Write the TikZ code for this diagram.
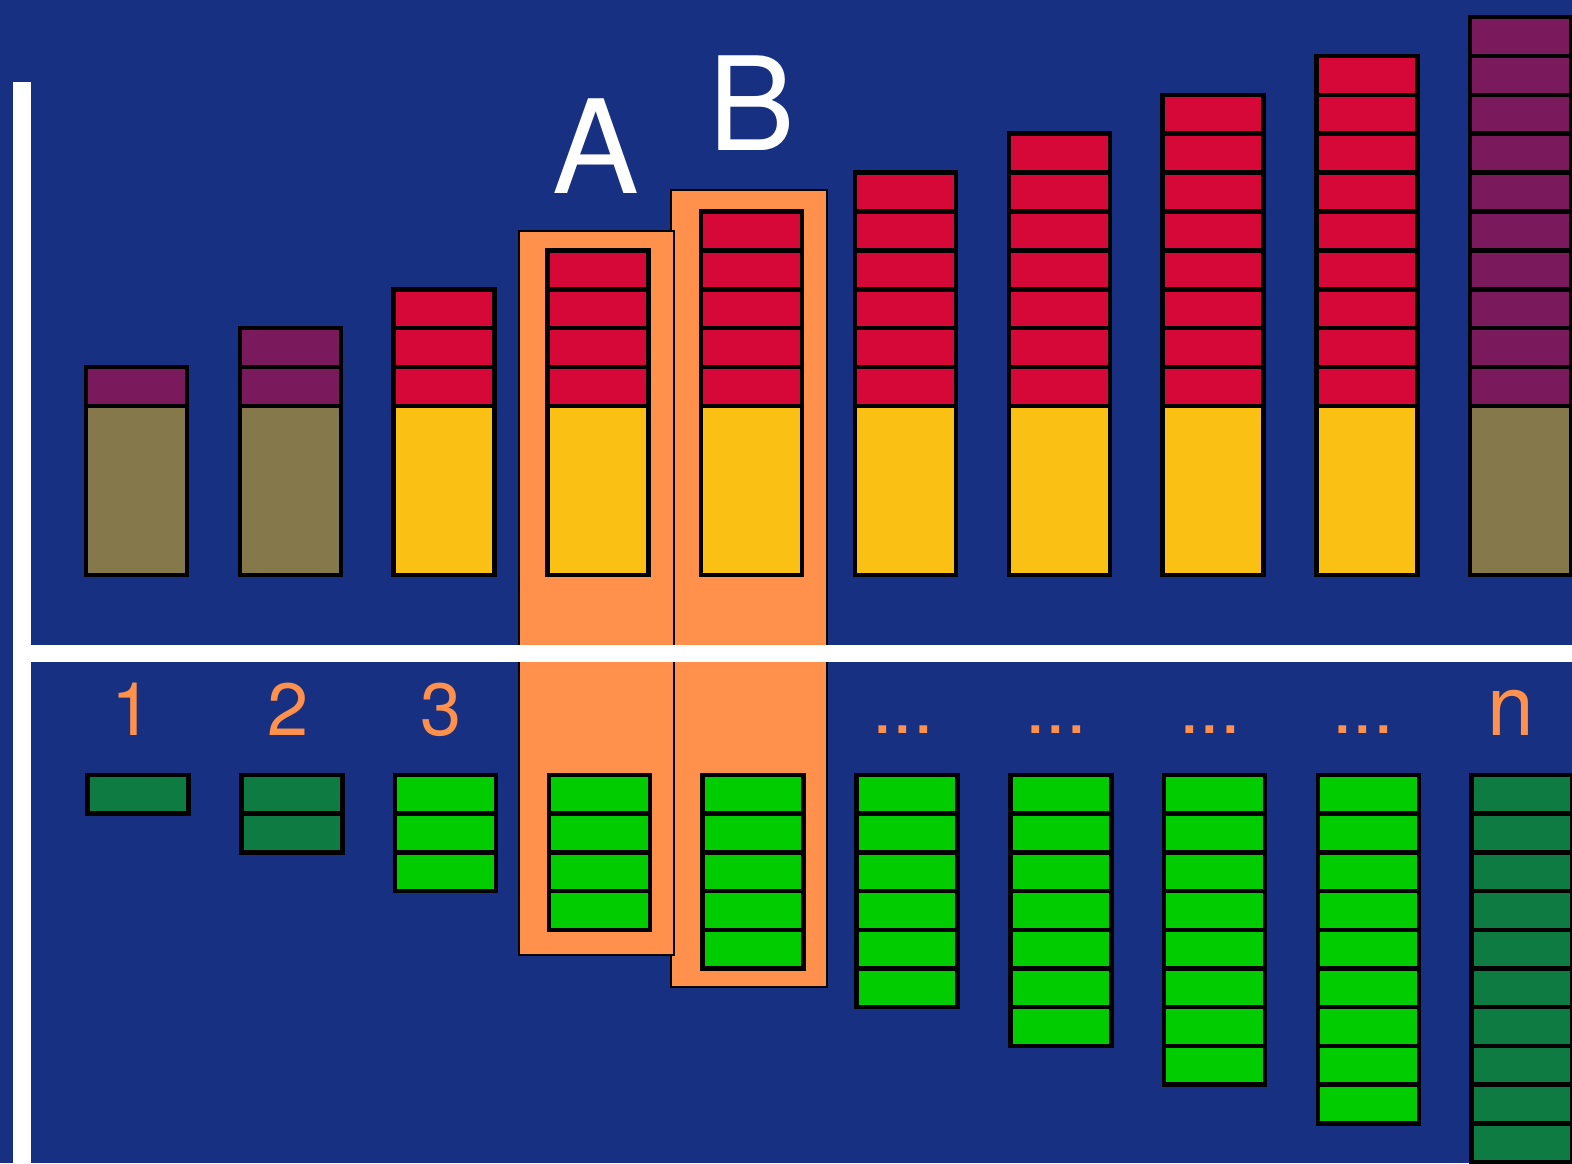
\documentclass[tikz,border=0pt]{standalone}
\usepackage{fontspec}
\setmainfont{TeX Gyre Heros}
\definecolor{bg}{RGB}{24,48,130}
\definecolor{purp}{RGB}{122,26,92}
\definecolor{olive}{RGB}{133,120,75}
\definecolor{cred}{RGB}{213,8,56}
\definecolor{yel}{RGB}{250,192,20}
\definecolor{lorange}{RGB}{255,145,77}
\definecolor{dgreen}{RGB}{14,124,66}
\definecolor{lgreen}{RGB}{0,204,0}
\tikzset{
  blk/.style={draw=black,line width=4.5pt},
  obox/.style={fill=lorange,draw=black,line width=2pt},
  lbl/.style={text=lorange,font=\fontsize{74}{80}\selectfont,anchor=base,inner sep=0pt},
  biglbl/.style={text=white,font=\fontsize{130}{140}\selectfont,anchor=base,inner sep=0pt}
}
\begin{document}
\begin{tikzpicture}[x=1pt,y=-1pt]
\useasboundingbox (0,0) rectangle (1572,1163);
\clip (0,0) rectangle (1572,1163);
\fill[bg] (0,0) rectangle (1572,1163);
% orange highlight boxes
\draw[obox] (671,190) rectangle (827,987);
\draw[obox] (519,231) rectangle (674,955);
% columns
\foreach \i in {1,...,10} {
  \pgfmathsetmacro\xl{86+(\i-1)*153.8}
  \pgfmathsetmacro\xr{\xl+101}
  \ifnum\i<3 \def\tc{purp}\def\bc{olive}\def\gc{dgreen}\else
    \ifnum\i=10 \def\tc{purp}\def\bc{olive}\def\gc{dgreen}\else
      \def\tc{cred}\def\bc{yel}\def\gc{lgreen}\fi\fi
  \filldraw[blk,fill=\bc] (\xl,406) rectangle (\xr,575);
  \foreach \k in {1,...,\i} {
    \filldraw[blk,fill=\tc] (\xl,{406-\k*38.9}) rectangle (\xr,{406-(\k-1)*38.9});
  }
  \foreach \k in {1,...,\i} {
    \filldraw[blk,fill=\gc] ({\xl+1.5},{775+(\k-1)*38.7}) rectangle ({\xr+1.5},{775+\k*38.7});
  }
}
% white axes
\fill[white] (13,82) rectangle (31,1163);
\fill[white] (31,645) rectangle (1572,662);
% labels
\node[lbl] (l1) at (132,735) {1};
\node[lbl] (l2) at (288,735) {2};
\node[lbl] (l3) at (441,735) {3};
\node[lbl] (d1) at (903,733) {...};
\node[lbl] (d2) at (1056,733) {...};
\node[lbl] (d3) at (1210,733) {...};
\node[lbl] (d4) at (1363,733) {...};
\node[lbl,font=\fontsize{84}{90}\selectfont] (ln) at (1511,735) {n};
\node[biglbl] (la) at (596,193) {A};
\node[biglbl] (lb) at (752,150) {B};
\end{tikzpicture}
\end{document}
